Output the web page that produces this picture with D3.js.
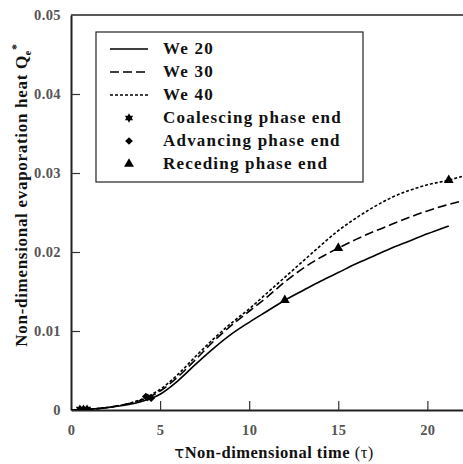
<!DOCTYPE html>
<html>
<head>
<meta charset="utf-8">
<script src="https://cdn.jsdelivr.net/npm/d3@7"></script>
<style>
  body { margin: 0; background: #fff; }
</style>
</head>
<body>
<svg id="main" width="463" height="464" font-family="Liberation Serif" font-weight="bold"></svg>
<script>
// tau values and Q values
var tau20 = [0, 1, 2, 3, 4, 5, 6, 7, 8, 9, 10, 11, 12, 13, 14, 15, 16, 17, 18, 19, 20, 21.2];
var q20   = [0, 0.0001, 0.0003, 0.0006, 0.0011, 0.0020, 0.0037, 0.0058, 0.0078, 0.0096, 0.0111, 0.0125, 0.0139, 0.0151, 0.0163, 0.0174, 0.0185, 0.0195, 0.0205, 0.0214, 0.0223, 0.0233];
var tau30 = [0, 1, 2, 3, 4, 5, 6, 7, 8, 9, 10, 11, 12, 13, 14, 15, 16, 17, 18, 19, 20, 21, 22];
var q30   = [0, 0.0001, 0.0003, 0.0007, 0.0013, 0.0024, 0.0042, 0.0064, 0.0087, 0.0107, 0.0125, 0.0143, 0.0162, 0.0179, 0.0193, 0.0205, 0.0216, 0.0226, 0.0235, 0.0244, 0.0252, 0.0259, 0.0265];
var tau40 = [0, 1, 2, 3, 4, 5, 6, 7, 8, 9, 10, 11, 12, 13, 14, 15, 16, 17, 18, 19, 20, 21.2, 22];
var q40   = [0, 0.0001, 0.0003, 0.0007, 0.0014, 0.0026, 0.0045, 0.0068, 0.0090, 0.0110, 0.0128, 0.0148, 0.0168, 0.0188, 0.0208, 0.0227, 0.0243, 0.0257, 0.0269, 0.0278, 0.0285, 0.0291, 0.0296];

// phase end markers [tau, Q]
var coalescing = [[0.9, 0.0001], [0.7, 0.0001], [0.5, 0.0001]];
var advancing  = [[4.5, 0.0015], [4.3, 0.0016], [4.2, 0.0017]];
var receding   = [[12, 0.0139], [15, 0.0205], [21.2, 0.0291]];

var legendLabels = ["We 20", "We 30", "We 40", "Coalescing phase end", "Advancing phase end", "Receding phase end"];
var xTicks = [0, 5, 10, 15, 20];
var yTicks = [0, 0.01, 0.02, 0.03, 0.04, 0.05];

var margin = {top: 15, right: 0, bottom: 54, left: 71},
    svg = d3.select("#main"),
    width = +svg.attr("width") - margin.left - margin.right,
    height = +svg.attr("height") - margin.top - margin.bottom;

var xScale = d3.scaleLinear().domain([0, 22]).range([0, width]),
    yScale = d3.scaleLinear().domain([0, 0.05]).range([height, 0]),
    g = svg.append("g").attr("transform", "translate(" + margin.left + "," + margin.top + ")");

g.append("defs").append("clipPath").attr("id", "clip")
    .append("rect").attr("width", width).attr("height", height);

// x axis, ticks pointing inward
var xAxis = g.append("g")
    .attr("transform", "translate(0," + height + ")")
    .call(d3.axisBottom(xScale).tickValues(xTicks).tickSizeInner(-9).tickSizeOuter(0).tickPadding(15));
// y axis
var yAxis = g.append("g")
    .call(d3.axisLeft(yScale).tickValues(yTicks).tickSizeInner(-9).tickSizeOuter(0).tickPadding(10)
        .tickFormat(function(d) { return d === 0 ? "0" : d3.format(".2f")(d); }));

[xAxis, yAxis].forEach(function(a) {
    a.select(".domain").attr("stroke", "#222").attr("stroke-width", 2);
    a.selectAll(".tick line").attr("stroke", "#333").attr("stroke-width", 1.2);
    a.selectAll(".tick text").attr("fill", "#555")
        .attr("font-family", "Liberation Serif").attr("font-weight", "bold")
        .attr("font-size", 14.5).attr("letter-spacing", 0.4);
});
// no tick marks on the corners
xAxis.selectAll(".tick").filter(function(d) { return d === 0; }).select("line").remove();
yAxis.selectAll(".tick").filter(function(d) { return d === 0 || d === 0.05; }).select("line").remove();

// top frame
g.append("line").attr("x1", 0).attr("x2", width).attr("y1", 0).attr("y2", 0)
    .attr("stroke", "#222").attr("stroke-width", 1.5);

var line = d3.line()
    .x(function(d) { return xScale(d[0]); })
    .y(function(d) { return yScale(d[1]); })
    .curve(d3.curveMonotoneX);

var series = [
    {t: tau20, q: q20, dash: null},
    {t: tau30, q: q30, dash: "9,4"},
    {t: tau40, q: q40, dash: "3,2"}
];

var plot = g.append("g").attr("clip-path", "url(#clip)");
series.forEach(function(s) {
    plot.append("path")
        .attr("d", line(d3.zip(s.t, s.q)))
        .attr("fill", "none")
        .attr("stroke", "#000")
        .attr("stroke-width", 1.6)
        .attr("stroke-dasharray", s.dash);
});

// six pointed star and square diamond
var hexStar = {
    draw: function(ctx, size) {
        var r = Math.sqrt(size) * 0.75, ri = r * 0.577;
        for (var i = 0; i < 12; i++) {
            var a = i * Math.PI / 6 - Math.PI / 2, rr = i % 2 ? ri : r;
            if (i === 0) ctx.moveTo(rr * Math.cos(a), rr * Math.sin(a));
            else ctx.lineTo(rr * Math.cos(a), rr * Math.sin(a));
        }
        ctx.closePath();
    }
};
var squareDiamond = {
    draw: function(ctx, size) {
        var r = Math.sqrt(size / 2);
        ctx.moveTo(0, -r); ctx.lineTo(r, 0); ctx.lineTo(0, r); ctx.lineTo(-r, 0);
        ctx.closePath();
    }
};
var markers = [
    {pts: coalescing, sym: d3.symbol().type(hexStar).size(40)},
    {pts: advancing, sym: d3.symbol().type(squareDiamond).size(30)},
    {pts: receding, sym: d3.symbol().type(d3.symbolTriangle).size(42)}
];
markers.forEach(function(m) {
    plot.selectAll(null).data(m.pts).enter().append("path")
        .attr("d", m.sym())
        .attr("transform", function(d) { return "translate(" + xScale(d[0]) + "," + yScale(d[1]) + ")"; })
        .attr("fill", "#000");
});

// legend
var legend = svg.append("g").attr("transform", "translate(96,32)");
legend.append("rect").attr("width", 267).attr("height", 150)
    .attr("fill", "#fff").attr("stroke", "#222").attr("stroke-width", 1.2);
legendLabels.forEach(function(lab, i) {
    var y = 17 + i * 23;
    if (i < 3) {
        legend.append("line").attr("x1", 14).attr("x2", 52).attr("y1", y).attr("y2", y)
            .attr("stroke", "#000").attr("stroke-width", 1.6)
            .attr("stroke-dasharray", series[i].dash);
    } else {
        legend.append("path").attr("d", markers[i - 3].sym())
            .attr("transform", "translate(33," + y + ")").attr("fill", "#000");
    }
    legend.append("text").attr("x", 67).attr("y", y + 5)
        .attr("font-size", 17).attr("letter-spacing", 1.2).attr("fill", "#111").text(lab);
});

// axis titles
var yt = svg.append("text")
    .attr("transform", "translate(27,195) rotate(-90)")
    .attr("text-anchor", "middle").attr("font-size", 17).attr("letter-spacing", 0.7).attr("fill", "#111");
yt.append("tspan").text("Non-dimensional evaporation heat Q");
yt.append("tspan").attr("dy", 4).attr("font-size", 10).text("e");
yt.append("tspan").attr("dy", -11).attr("font-size", 12).text("*");

var xt = svg.append("text").attr("x", 274).attr("y", 458)
    .attr("text-anchor", "middle").attr("font-size", 16.5).attr("letter-spacing", 0.5).attr("fill", "#111");
xt.append("tspan").attr("font-weight", "normal").attr("font-family", "DejaVu Sans").text("τ");
xt.append("tspan").text("Non-dimensional time ");
xt.append("tspan").attr("font-weight", "normal").text("(τ)");
</script>
</body>
</html>
